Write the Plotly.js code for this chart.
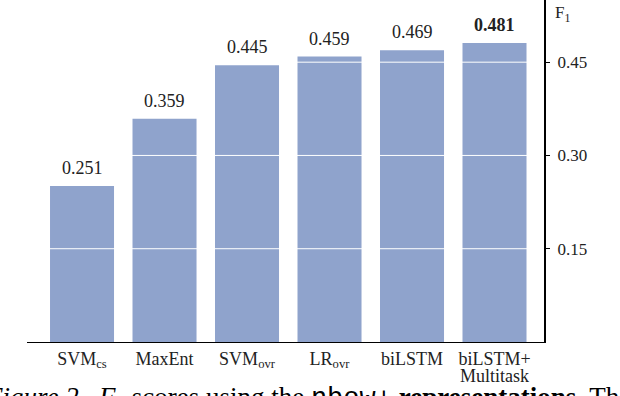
<!DOCTYPE html>
<html>
<head>
<meta charset="utf-8">
<script src="https://cdn.plot.ly/plotly-3.0.1.min.js"></script>
<style>
  html, body { margin: 0; padding: 0; background: #fff; }
  #chart { width: 620px; height: 396px; }
</style>
</head>
<body>
<div id="chart"></div>
<script>
// ---- data ----
const categories = ["SVM<sub>cs</sub>", "MaxEnt", "SVM<sub>ovr</sub>", "LR<sub>ovr</sub>", "biLSTM", "biLSTM+<br>Multitask"];
const f1Scores = [0.251, 0.359, 0.445, 0.459, 0.469, 0.481];
const yTickVals = [0.15, 0.30, 0.45];
const yTickText = ["0.15", "0.30", "0.45"];
const yAxisLabel = "F<sub>1</sub>";
const captionText = "<i>Figure 2.</i>  <i>F</i><sub>1</sub> scores using the <span style=\"font-family:'Liberation Mono'\">nbow+</span> <b>representations.</b> The";

// ---- styles ----
const serif = "'Liberation Serif', 'Times New Roman', serif";
const barColor = "rgb(143,163,204)";
const textColor = "#222";

const bestIndex = f1Scores.indexOf(Math.max(...f1Scores));
const firstLines = categories.map(c => c.split("<br>")[0]);
const extraLines = categories.map(c => c.split("<br>").slice(1).join("<br>"));

const trace = {
  type: "bar",
  x: categories,
  y: f1Scores,
  marker: { color: barColor, line: { width: 0 } },
  hoverinfo: "skip"
};

const valueAnnotations = f1Scores.map((v, i) => ({
  x: categories[i],
  y: v,
  xref: "x",
  yref: "y",
  text: i === bestIndex ? "<b>" + v.toFixed(3) + "</b>" : v.toFixed(3),
  showarrow: false,
  yanchor: "middle",
  yshift: 18,
  font: { family: serif, size: 18, color: textColor }
}));

const secondLineAnnotations = extraLines
  .map((t, i) => ({ t, i }))
  .filter(o => o.t)
  .map(o => ({
    x: categories[o.i],
    xref: "x",
    yref: "paper",
    y: 0,
    yanchor: "top",
    yshift: -22,
    text: o.t,
    showarrow: false,
    font: { family: serif, size: 18, color: textColor }
  }));

const gridShapes = yTickVals.map(v => ({
  type: "line",
  xref: "paper",
  yref: "y",
  x0: 0,
  x1: 0.98,
  y0: v,
  y1: v,
  layer: "above",
  line: { color: "#ffffff", width: 1 }
}));

const layout = {
  width: 620,
  height: 396,
  margin: { l: 27, r: 76, t: 0, b: 54, pad: 0 },
  paper_bgcolor: "#fff",
  plot_bgcolor: "#fff",
  showlegend: false,
  bargap: 0.224,
  font: { family: serif, size: 18, color: textColor },
  xaxis: {
    type: "category",
    range: [-0.667, 5.6],
    showline: true,
    linecolor: "#000",
    linewidth: 1,
    ticks: "",
    showgrid: false,
    zeroline: false,
    tickvals: categories,
    ticktext: firstLines,
    tickfont: { family: serif, size: 18, color: textColor },
    ticklabelstandoff: 0
  },
  yaxis: {
    side: "right",
    range: [0, 0.55],
    showline: true,
    linecolor: "#000",
    linewidth: 2,
    ticks: "outside",
    ticklen: 4,
    tickwidth: 1,
    tickcolor: "#000",
    tickvals: yTickVals,
    ticktext: yTickText,
    showgrid: false,
    zeroline: false,
    tickfont: { family: serif, size: 17, color: textColor },
    ticklabelstandoff: 4
  },
  shapes: gridShapes,
  annotations: valueAnnotations.concat(secondLineAnnotations, [
    {
      xref: "paper", yref: "paper",
      x: 1.017, y: 1,
      xanchor: "left", yanchor: "top",
      yshift: -1,
      text: yAxisLabel,
      showarrow: false,
      font: { family: serif, size: 17, color: textColor }
    },
    {
      xref: "paper", yref: "paper",
      x: -0.085, y: -0.11,
      xanchor: "left", yanchor: "top",
      text: captionText,
      showarrow: false,
      font: { family: serif, size: 27, color: "#000" }
    }
  ])
};

Plotly.newPlot("chart", [trace], layout, { staticPlot: true, displayModeBar: false });
</script>
</body>
</html>
